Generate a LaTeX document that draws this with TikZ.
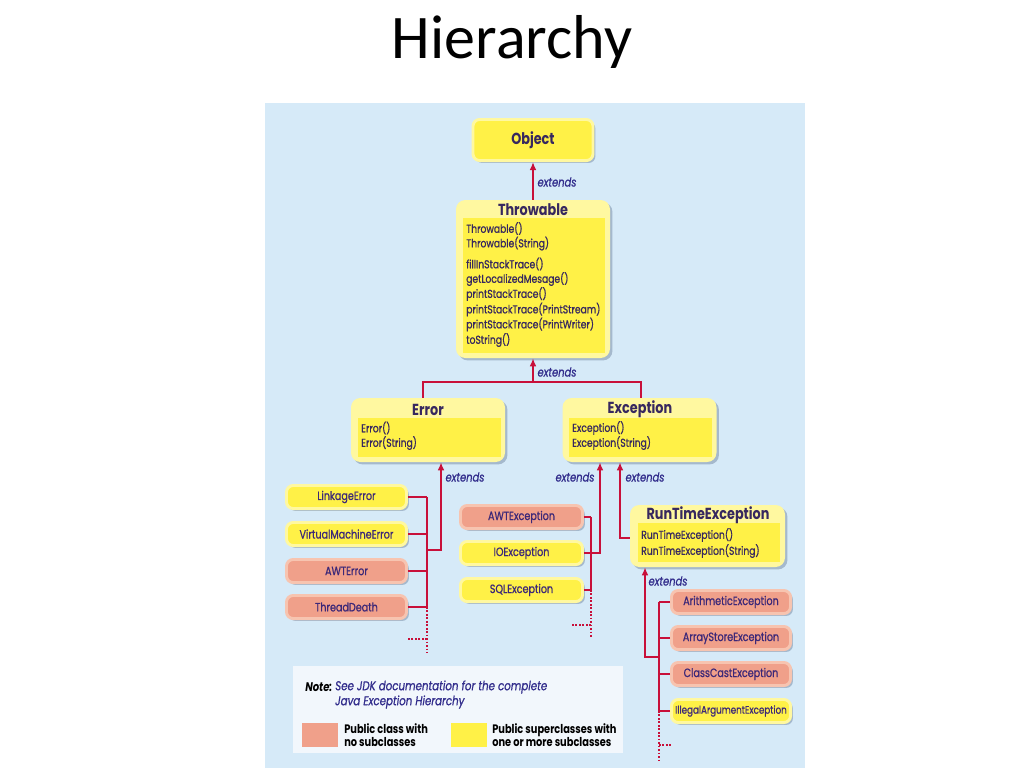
\documentclass[tikz,border=0pt]{standalone}
\usepackage{fontspec}
\usetikzlibrary{shadows,arrows.meta}
\newfontfamily\dfont[FakeStretch=0.8]{Poppins}
\newfontfamily\dfontm[FakeStretch=0.8,FakeBold=0.9]{Poppins}
\newfontfamily\tfont{Carlito}
\newcommand\myleaffont{\dfontm\fontsize{9}{10}\selectfont}
\newcommand\mytitlefont{\dfont\bfseries\fontsize{12}{13}\selectfont}
\newcommand\mymembfont{\dfontm\fontsize{8.6}{10}\selectfont}
\newcommand\myextfont{\dfontm\itshape\fontsize{9.3}{10}\selectfont}
\definecolor{panelBg}{RGB}{214,234,248}
\definecolor{fillY}{RGB}{255,241,71}
\definecolor{rimY}{RGB}{255,248,160}
\definecolor{fillS}{RGB}{240,160,138}
\definecolor{rimS}{RGB}{247,196,176}
\definecolor{shadowC}{RGB}{165,185,205}
\definecolor{lineC}{RGB}{200,16,58}
\definecolor{textC}{RGB}{55,40,95}
\definecolor{labC}{RGB}{60,40,120}
\definecolor{extC}{RGB}{50,45,140}
\definecolor{noteBg}{RGB}{242,247,252}
\begin{document}
\begin{tikzpicture}[x=0.75pt,y=-0.75pt,
  shad/.style={drop shadow={shadow xshift=1.8pt,shadow yshift=-1.8pt,fill=shadowC,opacity=1}},
  leaf/.style={rounded corners=5pt,line width=2.2pt,inner sep=0pt,minimum height=17.3pt,font=\myleaffont,text=labC,shad},
  yleaf/.style={leaf,fill=fillY,draw=rimY},
  sleaf/.style={leaf,fill=fillS,draw=rimS},
  outerbox/.style={fill=rimY,rounded corners=7pt,inner sep=0pt,shad},
  innerbox/.style={fill=fillY,inner sep=0pt},
  ctitle/.style={font=\mytitlefont,text=textC,inner sep=0pt},
  memb/.style={font=\mymembfont,text=textC,anchor=west,inner sep=0pt},
  conn/.style={draw=lineC,line width=1.8pt},
  arr/.style={conn,-{Latex[length=6pt,width=5pt]}},
  dots/.style={draw=lineC,line width=1.3pt,dash pattern=on 1.3pt off 1.3pt},
  ext/.style={font=\myextfont,text=extC,inner sep=0pt},
  legtext/.style={font=\dfont\bfseries\fontsize{9.2}{10.2}\selectfont,text=black,align=left,anchor=west,inner sep=0pt}
]
\useasboundingbox (0,0) rectangle (1024,768);
\fill[white] (0,0) rectangle (1024,768);
\node[font=\tfont\fontsize{46.5}{52}\selectfont] (title) at (512,42) {Hierarchy};
\fill[panelBg] (265,103) rectangle (805,768);

% Object
\node[yleaf,minimum width=90pt,minimum height=30.8pt,font=\mytitlefont,text=textC] (obj) at (533,140) {Object};

% Throwable
\node[outerbox,minimum width=115.5pt,minimum height=118.5pt] (thr) at (533,279) {};
\node[innerbox,minimum width=106.5pt,minimum height=101.25pt] (thrin) at (534,285.5) {};
\node[ctitle] (thrt) at (533,210) {Throwable};
\foreach \yy/\mtxt [count=\i] in {228.5/Throwable(),243.5/Throwable(String),264/fillInStackTrace(),279/getLocalizedMesage(),294/printStackTrace(),309.5/printStackTrace(PrintStream),324.5/printStackTrace(PrintWriter),340/toString()}
  \node[memb] (thrm\i) at (466,\yy) {\mtxt};

% Error
\node[outerbox,minimum width=115.5pt,minimum height=48pt] (err) at (428,430) {};
\node[innerbox,minimum width=107.25pt,minimum height=29.25pt] (errin) at (429.5,437.5) {};
\node[ctitle] (errt) at (428,409.5) {Error};
\node[memb] (errm1) at (361,428) {Error()};
\node[memb] (errm2) at (361,443) {Error(String)};

% Exception
\node[outerbox,minimum width=115.5pt,minimum height=48pt] (exc) at (639.5,430) {};
\node[innerbox,minimum width=107.25pt,minimum height=29.25pt] (excin) at (640.5,437.5) {};
\node[ctitle] (exct) at (640,409.5) {Exception};
\node[memb] (excm1) at (572,428) {Exception()};
\node[memb] (excm2) at (572,443) {Exception(String)};

% RunTimeException
\node[outerbox,minimum width=116.25pt,minimum height=46.5pt] (rte) at (707.5,536) {};
\node[innerbox,minimum width=106.5pt,minimum height=29.25pt] (rtein) at (709,542.5) {};
\node[ctitle] (rtet) at (708,515.5) {RunTimeException};
\node[memb] (rtem1) at (641,535) {RunTimeException()};
\node[memb] (rtem2) at (641,551) {RunTimeException(String)};

% Error children
\node[yleaf,minimum width=90pt] (le) at (346.5,497) {LinkageError};
\node[yleaf,minimum width=90pt] (vme) at (346.5,534) {VirtualMachineError};
\node[sleaf,minimum width=90pt] (awte) at (346.5,571) {AWTError};
\node[sleaf,minimum width=90pt] (td) at (346.5,607) {ThreadDeath};

% Exception children
\node[sleaf,minimum width=91.5pt] (awtx) at (521.5,517) {AWTException};
\node[yleaf,minimum width=91.5pt] (iox) at (521.5,553) {IOException};
\node[yleaf,minimum width=91.5pt] (sqlx) at (521.5,590) {SQLException};

% RTE children
\node[sleaf,minimum width=89.3pt] (arx) at (731,602) {ArithmeticException};
\node[sleaf,minimum width=89.3pt] (asx) at (731,638) {ArrayStoreException};
\node[sleaf,minimum width=89.3pt] (ccx) at (731,674) {ClassCastException};
\node[yleaf,minimum width=89.3pt,font=\dfontm\fontsize{8.2}{10}\selectfont] (iax) at (731,711) {IllegalArgumentException};

% connectors
\draw[arr] (thr.north) -- (obj.south);
\node[ext] (x1) at (557,182) {extends};

\coordinate (j1) at (533,382);
\coordinate (eL) at (423,382);
\coordinate (eR) at (641,382);
\draw[arr] (j1) -- (thr.south);
\draw[conn] (err.north -| eL) -- (eL) -- (eR) -- (exc.north -| eR);
\node[ext] (x2) at (557,372) {extends};

% error bus
\coordinate (eb) at (427,550);
\coordinate (ea) at (441,550);
\foreach \n in {le,vme,awte,td} \draw[conn] (\n.east) -- (\n.east -| eb);
\draw[conn] (le.east -| eb) -- (td.east -| eb);
\draw[dots] (td.east -| eb) -- (427,653);
\coordinate (ed) at (427,639);
\draw[dots] (ed) -- ++(-19,0);
\draw[arr] (eb) -- (ea) -- (err.south -| ea);
\node[ext] (x3) at (465,477) {extends};

% exception bus
\coordinate (xb) at (591,553);
\coordinate (xa) at (600,553);
\draw[conn] (awtx.east) -- (awtx.east -| xb);
\draw[conn] (sqlx.east) -- (sqlx.east -| xb);
\draw[conn] (awtx.east -| xb) -- (sqlx.east -| xb);
\draw[dots] (sqlx.east -| xb) -- (591,637);
\coordinate (xd) at (591,625);
\draw[dots] (xd) -- ++(-19,0);
\draw[arr] (iox.east) -- (xa) -- (exc.south -| xa);
\node[ext] (x4) at (575,477) {extends};

% RTE to Exception
\coordinate (ra) at (620,538);
\draw[arr] (rte.west |- ra) -- (ra) -- (exc.south -| ra);
\node[ext] (x5) at (645,477) {extends};

% RTE bus
\coordinate (rb) at (659,657);
\coordinate (rab) at (645,657);
\foreach \n in {arx,asx,ccx,iax} \draw[conn] (\n.west) -- (\n.west -| rb);
\draw[conn] (arx.west -| rb) -- (iax.west -| rb);
\draw[dots] (iax.west -| rb) -- (659,760);
\coordinate (rd) at (659,745);
\draw[dots] (rd) -- ++(13,0);
\draw[arr] (rb) -- (rab) -- (rte.south -| rab);
\node[ext] (x6) at (668,581) {extends};

% note
\node[fill=noteBg,minimum width=247.5pt,minimum height=65.25pt,inner sep=0pt] (note) at (458,709.5) {};
\node[font=\dfont\bfseries\itshape\fontsize{9.4}{10}\selectfont,text=black,anchor=west,inner sep=0pt] (notel) at (305,687) {Note:};
\node[font=\dfontm\itshape\fontsize{9.6}{10}\selectfont,text=extC,anchor=west,inner sep=0pt] (note1) at (335,687) {See JDK documentation for the complete};
\node[font=\dfontm\itshape\fontsize{9.6}{10}\selectfont,text=extC,anchor=west,inner sep=0pt] (note2) at (335,702) {Java Exception Hierarchy};
\node[fill=fillS,minimum width=27pt,minimum height=18pt,inner sep=0pt] (legS) at (320,735) {};
\node[legtext] (legSt) at (344,735) {Public class with\\no subclasses};
\node[fill=fillY,minimum width=27pt,minimum height=18pt,inner sep=0pt] (legY) at (469,735) {};
\node[legtext] (legYt) at (492,735) {Public superclasses with\\one or more subclasses};
\end{tikzpicture}
\end{document}
